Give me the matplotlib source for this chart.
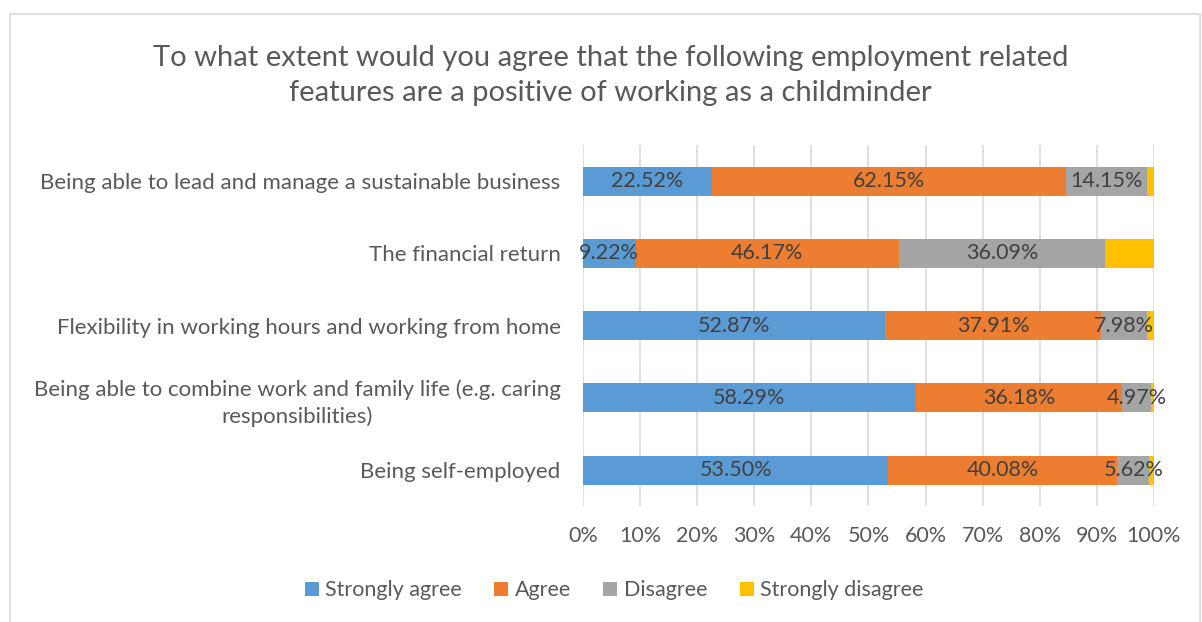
import matplotlib.pyplot as plt
from matplotlib.patches import Rectangle

plt.rcParams["font.family"] = ["Lato", "DejaVu Sans"]

categories = [
    "Being able to lead and manage a sustainable business",
    "The financial return",
    "Flexibility in working hours and working from home",
    "Being able to combine work and family life (e.g. caring\nresponsibilities)",
    "Being self-employed",
]
strongly_agree = [22.52, 9.22, 52.87, 58.29, 53.50]
agree = [62.15, 46.17, 37.91, 36.18, 40.08]
disagree = [14.15, 36.09, 7.98, 4.97, 5.62]
strongly_disagree = [1.18, 8.52, 1.24, 0.56, 0.80]

series = [
    ("Strongly agree", strongly_agree, "#5b9bd5", True),
    ("Agree", agree, "#ed7d31", True),
    ("Disagree", disagree, "#a5a5a5", True),
    ("Strongly disagree", strongly_disagree, "#ffc000", False),
]

text_col = "#595959"
label_col = "#404040"
fs = 15.5

fig = plt.figure(figsize=(12.02, 6.22), dpi=100)
ax = fig.add_axes([0.485, 0.186, 0.475, 0.581])

# light frame round the chart area
fig.patches.append(Rectangle((10 / 1202, -0.01), 1190 / 1202, 1 - 14 / 622 + 0.01,
                             transform=fig.transFigure, fill=False,
                             edgecolor="#d9d9d9", linewidth=1.2))

y = list(range(len(categories)))
left = [0.0] * len(categories)
for name, vals, col, show in series:
    bars = ax.barh(y, vals, left=left, height=0.4, color=col, label=name, zorder=3)
    if show:
        ax.bar_label(bars, labels=[f"{v:.2f}%" for v in vals], label_type="center",
                     fontsize=fs, color=label_col, zorder=5)
    left = [a + b for a, b in zip(left, vals)]

ax.set_xlim(0, 100)
ax.set_ylim(len(categories) - 0.5, -0.5)
ax.set_xticks(range(0, 101, 10))
ax.set_xticklabels([f"{t}%" for t in range(0, 101, 10)], fontsize=fs, color=text_col)
ax.set_yticks(y)
ax.set_yticklabels(categories, fontsize=16, color=text_col, linespacing=1.4)
for lab in ax.get_yticklabels():
    lab.set_horizontalalignment("right")
    lab.set_multialignment("center")
ax.tick_params(axis="y", length=0, pad=16)
ax.tick_params(axis="x", length=0, pad=14)
ax.grid(axis="x", color="#d9d9d9", linewidth=1.2, zorder=0)
for s in ax.spines.values():
    s.set_visible(False)

fig.text(0.508, 0.879, "To what extent would you agree that the following employment related\n"
         "features are a positive of working as a childminder",
         ha="center", va="center", fontsize=21, color=text_col, linespacing=1.42)

fig.legend(loc="center", bbox_to_anchor=(0.511, 0.051), ncol=4, frameon=False,
           fontsize=fs, labelcolor=text_col, handlelength=0.65, handleheight=0.65,
           handletextpad=0.3, columnspacing=1.5)

fig.savefig("out.png", dpi=100)
